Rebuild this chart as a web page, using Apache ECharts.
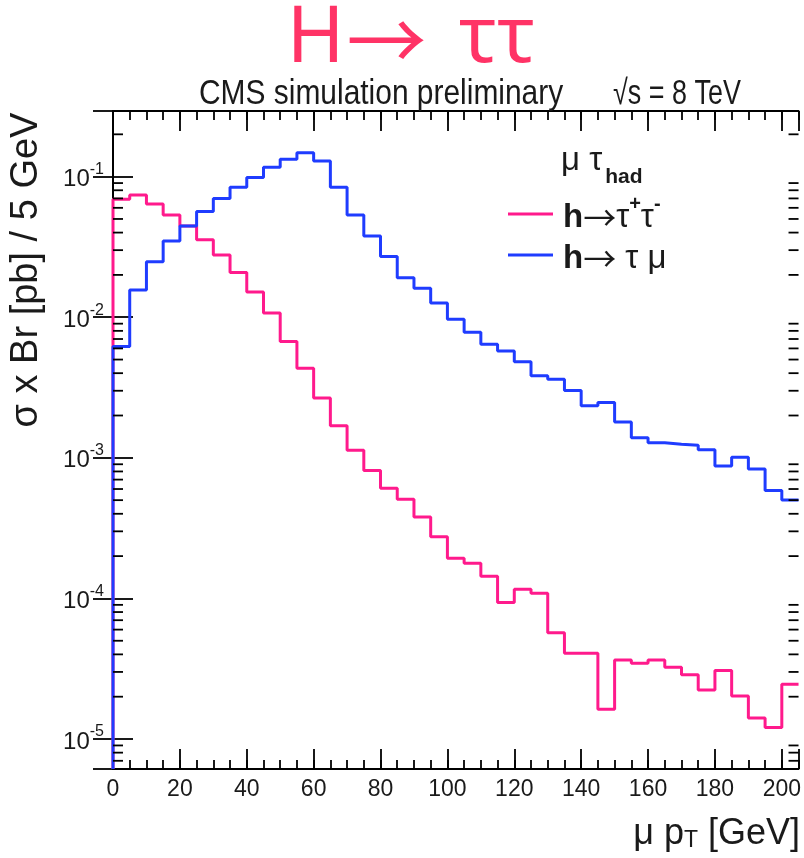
<!DOCTYPE html>
<html>
<head>
<meta charset="utf-8">
<script src="https://cdn.jsdelivr.net/npm/echarts@6/dist/echarts.min.js"></script>
<style>
html,body{margin:0;padding:0;background:#fff;}
#chart{width:804px;height:858px;}
</style>
</head>
<body>
<div id="chart"></div>
<script>
// ---- data ----
const binLow = [0,5,10,15,20,25,30,35,40,45,50,55,60,65,70,75,80,85,90,95,100,105,110,115,120,125,130,135,140,145,150,155,160,165,170,175,180,185,190,195,200];
const binWidth = 5;
const htautau = [0.069,0.0741,0.064,0.0534,0.0446,0.0355,0.0277,0.0208,0.0151,0.0107,
  0.00671,0.00434,0.00266,0.00169,0.00113,0.000811,0.000608,0.000508,0.000379,0.000275,
  0.000193,0.000178,0.000144,0.0000934,0.000116,0.000109,0.0000571,0.0000407,0.0000407,0.0000163,
  0.0000365,0.0000346,0.0000365,0.0000324,0.0000286,0.0000223,0.0000307,0.0000202,0.0000141,0.0000121,
  0.0000245];
const htaumu = [0.0062,0.0156,0.0248,0.0349,0.0446,0.0564,0.0698,0.0841,0.0984,0.1167,
  0.133,0.148,0.129,0.0841,0.0534,0.0379,0.027,0.0191,0.0161,0.0126,
  0.00968,0.00782,0.00642,0.00576,0.00483,0.00383,0.00362,0.00301,0.00235,0.00247,
  0.0018,0.00139,0.00128,0.00125,0.00123,0.00114,0.000875,0.00101,0.000834,0.000585,
  0.000502];
const xTickLabels = [0,20,40,60,80,100,120,140,160,180,200];
const yDecadeExponents = [-5,-4,-3,-2,-1];
const yMinorTicks = [7e-6,8e-6,9e-6,
  2e-5,3e-5,4e-5,5e-5,6e-5,7e-5,8e-5,9e-5,
  2e-4,3e-4,4e-4,5e-4,6e-4,7e-4,8e-4,9e-4,
  2e-3,3e-3,4e-3,5e-3,6e-3,7e-3,8e-3,9e-3,
  2e-2,3e-2,4e-2,5e-2,6e-2,7e-2,8e-2,9e-2,
  2e-1];
const X_MIN = 0, X_MAX = 205;
const Y_MIN = 6.12e-6, Y_MAX = 0.293;

// ---- build ----
function histPoints(vals){
  const pts = [[binLow[0], Y_MIN]];
  for (let i = 0; i < vals.length; i++) pts.push([binLow[i], vals[i]]);
  pts.push([binLow[binLow.length-1] + binWidth, vals[vals.length-1]]);
  return pts;
}
const SANS = '"Liberation Sans",Arial,sans-serif';
const CJK = '"Noto Sans CJK SC",sans-serif';
const txt = '#1a1a1a';
const PINK = '#ff1a8c', BLUE = '#1f3cff';

const chart = echarts.init(document.getElementById('chart'), null, {renderer:'canvas'});

const xCommon = {type:'value', min:X_MIN, max:X_MAX, splitLine:{show:false}};
const option = {
  animation:false,
  backgroundColor:'#fff',
  grid:{left:113, top:111, width:686, height:658, show:false},
  xAxis:[
    Object.assign({}, xCommon, {position:'bottom', interval:20,
      axisLine:{show:true, lineStyle:{color:'#000', width:2}},
      axisTick:{show:true, inside:true, length:20, lineStyle:{color:'#000', width:1.8}},
      axisLabel:{show:true, margin:9, color:txt, fontFamily:SANS, fontSize:23,
        formatter:v => xTickLabels.indexOf(v) >= 0 ? String(v) : ''}}),
    Object.assign({}, xCommon, {position:'bottom', interval:5,
      axisLine:{show:false}, axisLabel:{show:false},
      axisTick:{show:true, inside:true, length:9, lineStyle:{color:'#000', width:1.8}}}),
    Object.assign({}, xCommon, {position:'top', interval:20,
      axisLine:{show:true, lineStyle:{color:'#000', width:2}}, axisLabel:{show:false},
      axisTick:{show:true, inside:true, length:20, lineStyle:{color:'#000', width:1.8}}}),
    Object.assign({}, xCommon, {position:'top', interval:5,
      axisLine:{show:false}, axisLabel:{show:false},
      axisTick:{show:true, inside:true, length:9, lineStyle:{color:'#000', width:1.8}}})
  ],
  yAxis:[
    {type:'log', logBase:10, min:Y_MIN, max:Y_MAX, position:'left', splitLine:{show:false},
      axisLine:{show:true, lineStyle:{color:'#000', width:2}},
      axisTick:{show:true, inside:true, length:20, lineStyle:{color:'#000', width:1.8}},
      axisLabel:{show:true, margin:9, color:txt,
        formatter:v => {
          const e = Math.log10(v), r = Math.round(e);
          if (Math.abs(e - r) > 1e-6 || yDecadeExponents.indexOf(r) < 0) return '';
          return '{b|10}{s|' + r + '}';
        },
        rich:{
          b:{fontFamily:SANS, fontSize:24, color:txt, lineHeight:30, verticalAlign:'bottom'},
          s:{fontFamily:SANS, fontSize:16, color:txt, lineHeight:30, verticalAlign:'top', padding:[0,0,10,0]}
        }}},
    {type:'log', logBase:10, min:Y_MIN, max:Y_MAX, position:'right', splitLine:{show:false},
      axisLine:{show:true, lineStyle:{color:'#000', width:2}},
      axisTick:{show:true, inside:true, length:20, lineStyle:{color:'#000', width:1.8}},
      axisLabel:{show:false}}
  ],
  series:[
    {name:'h→τ+τ-', type:'line', step:'end', xAxisIndex:0, yAxisIndex:0,
      data:histPoints(htautau), showSymbol:false, symbol:'none',
      lineStyle:{color:PINK, width:3}, z:3},
    {name:'h→ τ μ', type:'line', step:'end', xAxisIndex:0, yAxisIndex:0,
      data:histPoints(htaumu), showSymbol:false, symbol:'none',
      lineStyle:{color:BLUE, width:3}, z:4},
    {type:'custom', xAxisIndex:0, yAxisIndex:0, silent:true, z:6, clip:false,
      data:yMinorTicks.map(v => [X_MIN, v]),
      encode:{x:0, y:1},
      renderItem:(params, api) => {
        const v = api.value(1);
        const a = api.coord([X_MIN, v]);
        const b = api.coord([X_MAX, v]);
        return {type:'group', children:[
          {type:'line', shape:{x1:a[0], y1:a[1], x2:a[0]+10, y2:a[1]}, style:{stroke:'#000', lineWidth:1.8}},
          {type:'line', shape:{x1:b[0], y1:b[1], x2:b[0]-10, y2:b[1]}, style:{stroke:'#000', lineWidth:1.8}}
        ]};
      }}
  ],
  graphic:[
    {type:'text', x:411, y:40, z:10,
      style:{text:'{t|H}{a|→}{t| ττ}', align:'center', verticalAlign:'middle',
        rich:{
          t:{font:'400 78px "Noto Sans","Open Sans",sans-serif', fill:'#ff3366', lineHeight:90, verticalAlign:'middle'},
          a:{font:'400 80px ' + CJK, fill:'#ff3366', lineHeight:90, verticalAlign:'middle', padding:[0,12,0,2]}
        }}},
    {type:'text', x:199, y:94, scaleX:0.855, z:10,
      style:{text:'CMS simulation preliminary', fill:txt, font:'35px ' + SANS, verticalAlign:'middle'}},
    {type:'text', x:613, y:94, scaleX:0.77, z:10,
      style:{text:'√s = 8 TeV', fill:txt, font:'35px ' + SANS, verticalAlign:'middle'}},
    {type:'text', x:27, y:270, rotation:Math.PI/2, z:10,
      style:{text:'σ x Br [pb] / 5 GeV', fill:txt, font:'38px ' + SANS, align:'center', verticalAlign:'middle'}},
    {type:'text', x:800, y:830, z:10,
      style:{text:'{r|μ p}{sub|T}{r| [GeV]}', align:'right', verticalAlign:'middle',
        rich:{
          r:{font:'36px ' + SANS, fill:txt, lineHeight:44, verticalAlign:'bottom'},
          sub:{font:'23px ' + SANS, fill:txt, lineHeight:44, verticalAlign:'bottom', padding:[0,0,0,0]}
        }}},
    {type:'text', x:561, y:166, z:10,
      style:{text:'{r|μ τ}{sub|had}', verticalAlign:'middle',
        rich:{
          r:{font:'33px ' + SANS, fill:txt, lineHeight:44, verticalAlign:'top'},
          sub:{font:'bold 21px ' + SANS, fill:txt, lineHeight:44, verticalAlign:'bottom', padding:[0,0,0,3]}
        }}},
    {type:'line', shape:{x1:508, y1:214, x2:553, y2:214}, style:{stroke:PINK, lineWidth:3}, z:10},
    {type:'text', x:563, y:214, z:10,
      style:{text:'{b|h}{a|→}{r|τ}{sup|+}{r|τ}{sup|-}', verticalAlign:'middle',
        rich:{
          b:{font:'bold 33px ' + SANS, fill:txt, lineHeight:40, verticalAlign:'bottom'},
          a:{font:'33px ' + CJK, fill:txt, lineHeight:40, verticalAlign:'bottom'},
          r:{font:'33px ' + SANS, fill:txt, lineHeight:40, verticalAlign:'bottom'},
          sup:{font:'bold 20px ' + SANS, fill:txt, lineHeight:40, verticalAlign:'top'}
        }}},
    {type:'line', shape:{x1:508, y1:255, x2:553, y2:255}, style:{stroke:BLUE, lineWidth:3}, z:10},
    {type:'text', x:563, y:255, z:10,
      style:{text:'{b|h}{a|→}{r| τ μ}', verticalAlign:'middle',
        rich:{
          b:{font:'bold 33px ' + SANS, fill:txt, lineHeight:40, verticalAlign:'bottom'},
          a:{font:'33px ' + CJK, fill:txt, lineHeight:40, verticalAlign:'bottom'},
          r:{font:'33px ' + SANS, fill:txt, lineHeight:40, verticalAlign:'bottom'}
        }}}
  ]
};
chart.setOption(option);
</script>
</body>
</html>
